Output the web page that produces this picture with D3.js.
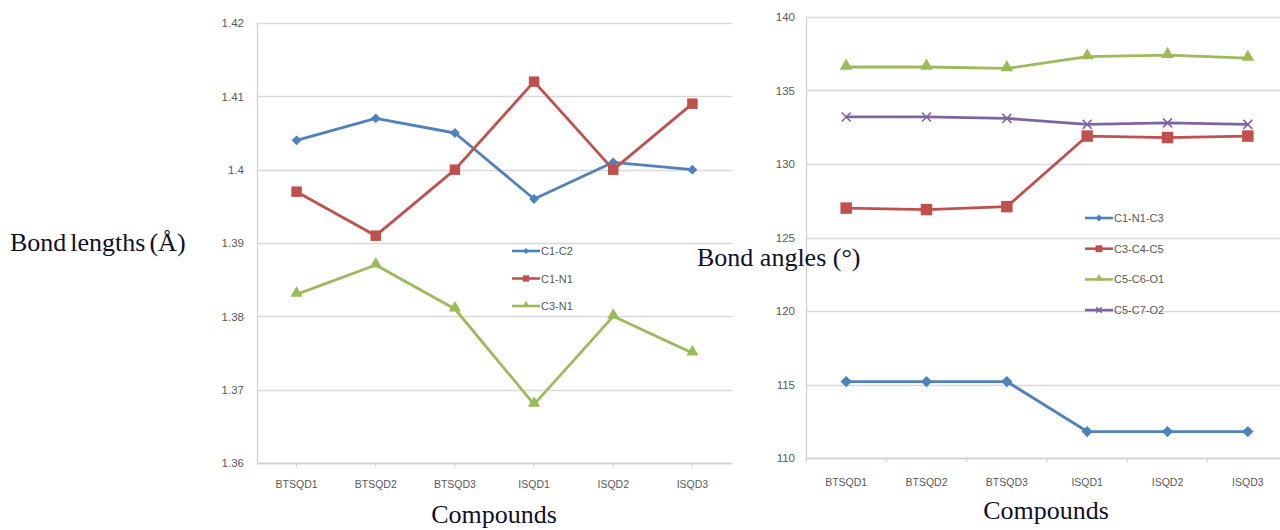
<!DOCTYPE html>
<html>
<head>
<meta charset="utf-8">
<script src="https://cdn.jsdelivr.net/npm/d3@7"></script>
<style>
  body { margin: 0; background: #fff; }
  svg { display: block; }
  .tick-label { font-family: "Liberation Sans", Arial, sans-serif; font-size: 10.5px; fill: #595959; }
  .y-label { font-size: 11.5px; }
  .title { font-family: "Liberation Serif", "Times New Roman", serif; font-size: 26px; fill: #10102a; }
  .legend-text { font-family: "Liberation Sans", Arial, sans-serif; font-size: 11px; fill: #595959; }
</style>
</head>
<body>
<div id="chart"></div>
<script>
// categories shared by both panels
var compounds = ["BTSQD1", "BTSQD2", "BTSQD3", "ISQD1", "ISQD2", "ISQD3"];

// bond lengths (Å)
var lengthNames = ["C1-C2", "C1-N1", "C3-N1"];
var c1c2 = [1.404, 1.407, 1.405, 1.396, 1.401, 1.400];
var c1n1 = [1.397, 1.391, 1.400, 1.412, 1.400, 1.409];
var c3n1 = [1.383, 1.387, 1.381, 1.368, 1.380, 1.375];
var lengthTicks = [1.36, 1.37, 1.38, 1.39, 1.40, 1.41, 1.42];

// bond angles (°)
var angleNames = ["C1-N1-C3", "C3-C4-C5", "C5-C6-O1", "C5-C7-O2"];
var c1n1c3 = [115.2, 115.2, 115.2, 111.8, 111.8, 111.8];
var c3c4c5 = [127.0, 126.9, 127.1, 131.9, 131.8, 131.9];
var c5c6o1 = [136.6, 136.6, 136.5, 137.3, 137.4, 137.2];
var c5c7o2 = [133.2, 133.2, 133.1, 132.7, 132.8, 132.7];
var angleTicks = [110, 115, 120, 125, 130, 135, 140];

var blue = "#4f81bd", red = "#c0504d", green = "#9bbb59", purple = "#8064a2";

var svg = d3.select("#chart").append("svg")
    .attr("width", 1280)
    .attr("height", 530);

function marker(g, kind, x, y, s, color) {
    if (kind == "diamond") {
        g.append("path")
            .attr("d", d3.symbol(d3.symbolSquare, s * s))
            .attr("transform", "translate(" + x + "," + y + ") rotate(45)")
            .attr("fill", color);
    } else if (kind == "square") {
        g.append("path")
            .attr("d", d3.symbol(d3.symbolSquare, s * s))
            .attr("transform", "translate(" + x + "," + y + ")")
            .attr("fill", color);
    } else if (kind == "triangle") {
        g.append("path")
            .attr("d", d3.symbol(d3.symbolTriangle, s * s * 0.45))
            .attr("transform", "translate(" + x + "," + (y - 1) + ")")
            .attr("fill", color);
    } else if (kind == "cross") {
        var h = s / 2;
        g.append("path")
            .attr("d", "M" + (x - h) + "," + (y - h) + "L" + (x + h) + "," + (y + h) +
                       "M" + (x - h) + "," + (y + h) + "L" + (x + h) + "," + (y - h))
            .attr("stroke", color)
            .attr("stroke-width", 1.6)
            .attr("fill", "none");
    }
}

function drawPanel(opt) {
    var g = svg.append("g");

    var x = d3.scaleBand()
        .domain(compounds)
        .range(opt.xRange);

    var y = d3.scaleLinear()
        .domain(d3.extent(opt.ticks))
        .range(opt.yRange);

    // gridlines
    g.append("g")
        .selectAll("line")
        .data(opt.ticks)
        .enter()
        .append("line")
        .attr("x1", opt.xRange[0])
        .attr("x2", opt.gridEnd)
        .attr("y1", function (d) { return Math.round(y(d)) + 0.5; })
        .attr("y2", function (d) { return Math.round(y(d)) + 0.5; })
        .attr("stroke", "#d9d9d9")
        .attr("stroke-width", 1.3);

    // y axis
    var yAxis = g.append("g")
        .attr("transform", "translate(" + opt.xRange[0] + ",0)")
        .call(d3.axisLeft(y).tickValues(opt.ticks).tickSize(0).tickPadding(opt.labelPad)
              .tickFormat(function (d) { return String(+d.toFixed(2)); }));
    yAxis.select(".domain").attr("stroke", "#d0d0d0").attr("stroke-width", 1.3);
    yAxis.selectAll("text").attr("class", "tick-label y-label").attr("fill", null).attr("font-size", null).attr("font-family", null);

    // x axis
    var base = Math.round(opt.yRange[0]) + 0.5;
    g.append("line")
        .attr("x1", opt.xRange[0]).attr("x2", opt.xRange[1])
        .attr("y1", base).attr("y2", base)
        .attr("stroke", "#d0d0d0").attr("stroke-width", 1.3);

    var tickPos = opt.tickAtCenter
        ? compounds.map(function (c) { return x(c) + x.bandwidth() / 2; })
        : compounds.map(function (c) { return x(c); }).concat([opt.xRange[1]]);
    g.append("g")
        .selectAll("line")
        .data(tickPos)
        .enter()
        .append("line")
        .attr("x1", function (d) { return d; })
        .attr("x2", function (d) { return d; })
        .attr("y1", base)
        .attr("y2", base + 4)
        .attr("stroke", "#d0d0d0");

    g.append("g")
        .selectAll("text")
        .data(compounds)
        .enter()
        .append("text")
        .attr("class", "tick-label")
        .attr("x", function (d) { return x(d) + x.bandwidth() / 2; })
        .attr("y", opt.xLabelY)
        .attr("text-anchor", "middle")
        .text(function (d) { return d; });

    // series
    var line = d3.line()
        .x(function (d, i) { return x(compounds[i]) + x.bandwidth() / 2; })
        .y(function (d) { return y(d); });

    opt.series.forEach(function (s) {
        g.append("path")
            .datum(s.values)
            .attr("d", line)
            .attr("fill", "none")
            .attr("stroke", s.color)
            .attr("stroke-width", 2.8)
            .attr("stroke-linejoin", "round");
        s.values.forEach(function (v, i) {
            marker(g, s.kind, x(compounds[i]) + x.bandwidth() / 2, y(v), s.size, s.color);
        });
    });

    // legend
    var lg = g.append("g");
    opt.series.forEach(function (s, i) {
        var ly = opt.legend.y + i * opt.legend.step;
        lg.append("line")
            .attr("x1", opt.legend.x).attr("x2", opt.legend.x + 28)
            .attr("y1", ly).attr("y2", ly)
            .attr("stroke", s.color).attr("stroke-width", 2.6);
        marker(lg, s.kind, opt.legend.x + 14, ly, s.size * 0.6, s.color);
        lg.append("text")
            .attr("class", "legend-text")
            .attr("x", opt.legend.x + 29)
            .attr("y", ly + 4)
            .text(s.name);
    });
}

drawPanel({
    xRange: [257, 732],
    yRange: [463, 23],
    gridEnd: 732,
    ticks: lengthTicks,
    labelPad: 13,
    tickAtCenter: true,
    xLabelY: 488,
    series: [
        { name: lengthNames[0], values: c1c2, color: blue, kind: "diamond", size: 7 },
        { name: lengthNames[1], values: c1n1, color: red, kind: "square", size: 10.5 },
        { name: lengthNames[2], values: c3n1, color: green, kind: "triangle", size: 12 }
    ],
    legend: { x: 512, y: 251, step: 27.5 }
});

drawPanel({
    xRange: [806, 1288],
    yRange: [458, 17],
    gridEnd: 1280,
    ticks: angleTicks,
    labelPad: 11,
    tickAtCenter: false,
    xLabelY: 486,
    series: [
        { name: angleNames[0], values: c1n1c3, color: blue, kind: "diamond", size: 8 },
        { name: angleNames[1], values: c3c4c5, color: red, kind: "square", size: 11.5 },
        { name: angleNames[2], values: c5c6o1, color: green, kind: "triangle", size: 12.5 },
        { name: angleNames[3], values: c5c7o2, color: purple, kind: "cross", size: 9 }
    ],
    legend: { x: 1085, y: 218, step: 30.7 }
});

// axis titles
svg.append("text").attr("class", "title").attr("x", 10).attr("y", 251)
    .attr("word-spacing", "-2.5px").text("Bond lengths (Å)");
svg.append("text").attr("class", "title").attr("x", 697).attr("y", 266).text("Bond angles (°)");
svg.append("text").attr("class", "title").attr("x", 494).attr("y", 523).attr("text-anchor", "middle").text("Compounds");
svg.append("text").attr("class", "title").attr("x", 1046).attr("y", 519).attr("text-anchor", "middle").text("Compounds");
</script>
</body>
</html>
